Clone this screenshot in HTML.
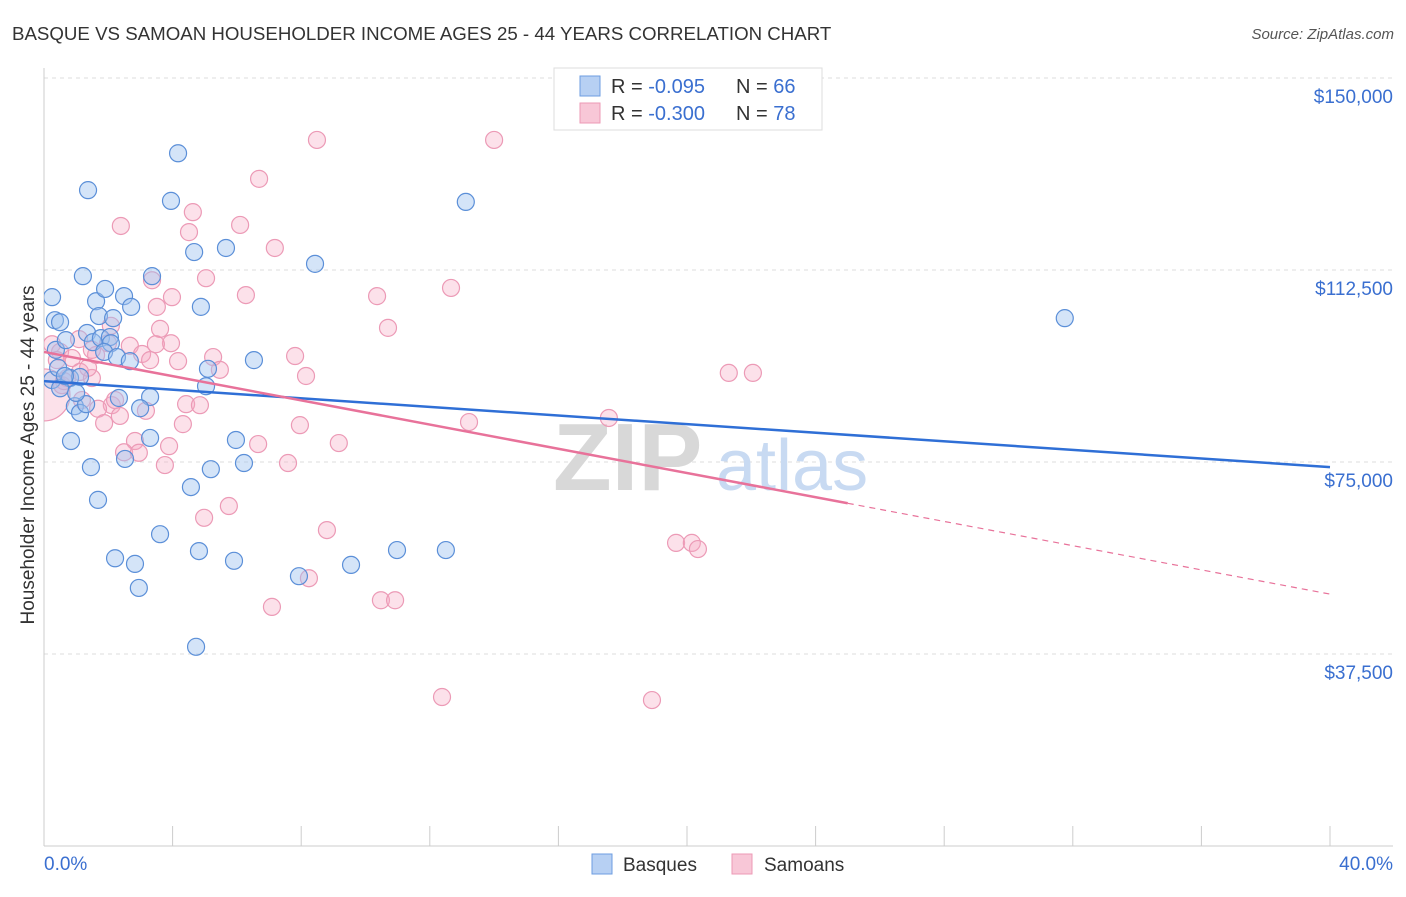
<!DOCTYPE html>
<html><head><meta charset="utf-8"><style>
body{margin:0;background:#fff;font-family:"Liberation Sans",sans-serif;}
svg text{font-family:"Liberation Sans",sans-serif;}
</style></head><body>
<svg id="chart" width="1406" height="892" viewBox="0 0 1406 892" xmlns="http://www.w3.org/2000/svg">
<defs><clipPath id="plotclip"><rect x="44" y="60" width="1360" height="786"/></clipPath></defs>
<text x="12" y="40" font-size="18.7" fill="#333">BASQUE VS SAMOAN HOUSEHOLDER INCOME AGES 25 - 44 YEARS CORRELATION CHART</text>
<text x="1394" y="39" font-size="15" fill="#555" font-style="italic" text-anchor="end">Source: ZipAtlas.com</text>
<g id="grid"></g>
<g>
<text x="553" y="490" font-size="96" font-family="Liberation Serif" fill="#d8d8d8" font-weight="bold">ZIP</text>
<text x="716" y="490" font-size="72" fill="#c8daf2">atlas</text>
</g>
<g id="pts" clip-path="url(#plotclip)"></g>
<g id="trends"></g>
<text x="0" y="0" font-size="19" fill="#333" text-anchor="middle" transform="translate(34,455) rotate(-90)">Householder Income Ages 25 - 44 years</text>
<text x="44" y="870" font-size="19" fill="#3a6fd0">0.0%</text>
<text x="1393" y="870" font-size="19" fill="#3a6fd0" text-anchor="end">40.0%</text>
<g>
<rect x="554" y="68" width="268" height="62" fill="#fff" stroke="#ddd"/>
<rect x="580" y="76" width="20" height="20" fill="#b7d0f3" stroke="#6d9de0"/>
<rect x="580" y="103" width="20" height="20" fill="#f8c7d7" stroke="#ec9ab6"/>
<text x="611" y="93" font-size="20" fill="#333">R = <tspan fill="#3a6fd0">-0.095</tspan></text>
<text x="736" y="93" font-size="20" fill="#333">N = <tspan fill="#3a6fd0">66</tspan></text>
<text x="611" y="120" font-size="20" fill="#333">R = <tspan fill="#3a6fd0">-0.300</tspan></text>
<text x="736" y="120" font-size="20" fill="#333">N = <tspan fill="#3a6fd0">78</tspan></text>
</g>
<g>
<rect x="592" y="854" width="20" height="20" fill="#b7d0f3" stroke="#6d9de0"/>
<text x="623" y="871" font-size="19" fill="#333">Basques</text>
<rect x="732" y="854" width="20" height="20" fill="#f8c7d7" stroke="#ec9ab6"/>
<text x="764" y="871" font-size="19" fill="#333">Samoans</text>
</g>
</svg>
<script>
const yTicks=[37500,75000,112500,150000];
const yTickLabels=["$37,500","$75,000","$112,500","$150,000"];
const xTicks=[0,4,8,12,16,20,24,28,32,36,40];
const basqueX=[0.25,0.34,0.50,0.25,0.37,0.68,1.21,1.37,1.62,1.90,2.49,2.71,1.71,2.15,1.34,1.52,1.77,2.05,2.08,1.87,2.27,2.67,0.44,0.81,1.12,0.50,0.96,1.12,1.31,2.33,3.30,2.99,0.84,3.30,2.52,1.46,1.68,4.17,3.95,3.36,4.67,5.66,4.88,8.43,6.53,5.10,5.04,5.97,5.19,6.22,4.57,3.61,2.21,2.83,2.95,4.82,5.91,7.93,9.55,10.98,12.50,4.73,13.12,31.75,1.00,0.65];
const basqueY=[107.2,102.7,102.3,91.0,96.9,98.8,111.3,128.1,106.4,108.8,107.4,105.3,103.5,103.1,100.2,98.4,99.2,99.4,98.2,96.5,95.5,94.7,93.4,91.4,91.6,89.4,85.9,84.6,86.3,87.5,87.7,85.5,79.1,79.7,75.6,74.0,67.6,135.3,126.0,111.3,116.0,116.8,105.3,113.7,94.9,93.2,89.8,79.3,73.6,74.8,70.1,60.9,56.2,55.1,50.4,57.6,55.7,52.7,54.9,57.8,57.8,38.9,125.8,103.1,88.5,91.8];
const samoanX=[0.25,0.50,0.87,0.56,0.72,1.12,1.49,1.37,1.62,1.09,2.08,1.99,2.67,3.05,3.51,3.36,3.61,3.98,3.95,3.48,4.17,5.04,5.26,5.47,6.28,7.18,6.10,4.63,4.51,2.39,6.69,8.49,14.00,12.66,10.36,10.70,7.81,8.15,4.42,4.85,2.11,1.68,3.17,2.36,1.87,2.83,2.49,2.95,3.89,3.76,4.32,6.66,7.96,9.17,7.59,4.98,5.75,8.80,8.24,7.09,10.48,10.92,12.38,18.91,13.22,17.57,21.30,22.05,19.66,20.15,20.34,0.62,1.18,0.40,2.21,3.30,1.49];
const samoanY=[98.0,96.5,95.3,90.0,91.4,92.6,91.4,93.4,95.9,99.0,101.6,98.2,97.7,96.1,105.3,110.5,101.0,107.2,98.2,98.0,94.7,110.9,95.5,93.0,107.6,116.8,121.3,123.8,119.9,121.1,130.3,137.9,137.9,109.0,107.4,101.2,95.7,91.8,86.3,86.1,86.1,85.4,85.0,84.0,82.6,79.1,76.9,76.8,78.1,74.4,82.4,78.5,82.2,78.7,74.8,64.1,66.4,61.7,52.3,46.7,48.0,48.0,29.1,28.5,82.8,83.6,92.4,92.4,59.2,59.2,58.0,90.8,87.1,94.9,87.1,94.9,96.9];
const samoanBig=[0.0,88.1];
const basqueTrend=[90.8,74.0];
const samoanTrend=[96.5,49.2];
const samoanSolidEnd=25.0;

const NS="http://www.w3.org/2000/svg";
const X0=44,X1=1330,Y0=846;
const xs=v=>X0+(v/40)*(X1-X0);
const ys=v=>Y0-(v/37500)*192;
const ysK=v=>ys(v*1000);
function mk(tag,attrs,parent){const e=document.createElementNS(NS,tag);for(const k in attrs)e.setAttribute(k,attrs[k]);parent.appendChild(e);return e;}
const grid=document.getElementById('grid');
yTicks.forEach((t,i)=>{
  const l=mk('line',{x1:44,x2:1393,y1:ys(t),y2:ys(t),stroke:'#ddd','stroke-dasharray':'4,4'},grid);
  
  
  const tx=mk('text',{x:1393,y:ys(t)+25,'font-size':19,fill:'#3a6fd0','text-anchor':'end'},grid);
  tx.textContent=yTickLabels[i];
  
  
});
const ax=mk('line',{x1:44,x2:44,y1:68,y2:846,stroke:'#ccc'},grid);


const bx=mk('line',{x1:44,x2:1393,y1:846,y2:846,stroke:'#ccc'},grid);


xTicks.forEach(t=>{
  const l=mk('line',{x1:xs(t),x2:xs(t),y1:826,y2:846,stroke:'#ccc'},grid);
  
  
});
const pts=document.getElementById('pts');
const big=mk('circle',{cx:xs(samoanBig[0]),cy:ysK(samoanBig[1]),r:26,fill:'rgba(245,170,195,0.35)',stroke:'#ec9ab6','stroke-width':1.2},pts);


samoanX.forEach((x,i)=>{
  const c=mk('circle',{cx:xs(x),cy:ysK(samoanY[i]),r:8.5,fill:'rgba(245,170,195,0.35)',stroke:'#ec9ab6','stroke-width':1.2},pts);
  
  
});
basqueX.forEach((x,i)=>{
  const c=mk('circle',{cx:xs(x),cy:ysK(basqueY[i]),r:8.5,fill:'rgba(160,196,240,0.45)',stroke:'#5b8fd8','stroke-width':1.2},pts);
  
  
});
const tr=document.getElementById('trends');
const bl=mk('line',{x1:xs(0),y1:ysK(basqueTrend[0]),x2:xs(40),y2:ysK(basqueTrend[1]),stroke:'#2f6fd6','stroke-width':2.5},tr);


const sy=v=>samoanTrend[0]+(samoanTrend[1]-samoanTrend[0])*v/40;
const sl=mk('line',{x1:xs(0),y1:ysK(sy(0)),x2:xs(samoanSolidEnd),y2:ysK(sy(samoanSolidEnd)),stroke:'#e8729a','stroke-width':2.5},tr);


const sd=mk('line',{x1:xs(samoanSolidEnd),y1:ysK(sy(samoanSolidEnd)),x2:xs(40),y2:ysK(sy(40)),stroke:'#e8729a','stroke-width':1.2,'stroke-dasharray':'6,5'},tr);


</script>
</body></html>
